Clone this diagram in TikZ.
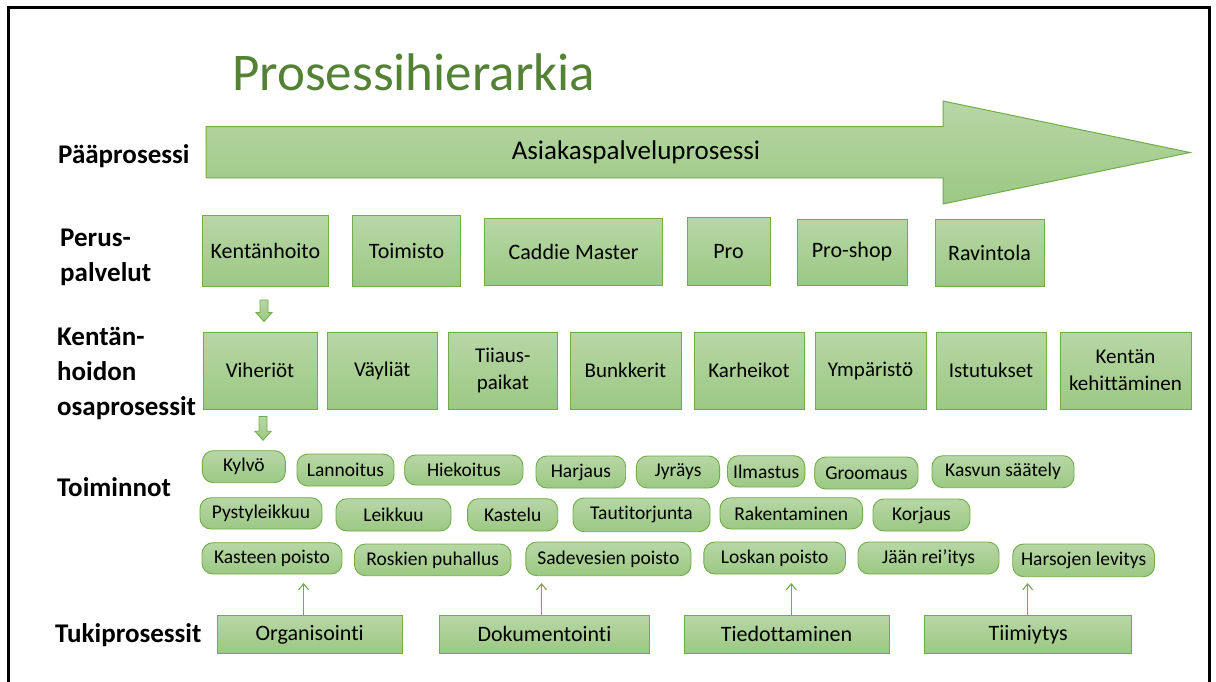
\documentclass[tikz,border=0pt]{standalone}
\usepackage{fontspec}
\setmainfont{Carlito}[Ligatures=NoCommon]
\usetikzlibrary{calc,arrows.meta}

\definecolor{gtop}{RGB}{183,215,166}
\definecolor{gbot}{RGB}{156,200,131}
\definecolor{gline}{RGB}{112,173,71}
\definecolor{titlegreen}{RGB}{84,130,53}

\tikzset{
  pbox/.style={draw=gline, line width=0.9pt, top color=gtop, bottom color=gbot,
               inner sep=0pt, align=center, text=black},
  perus/.style={pbox, font=\fontsize{22}{26}\selectfont},
  osa/.style={pbox, font=\fontsize{21}{27}\selectfont},
  toim/.style={pbox, rounded corners=11pt, font=\fontsize{19.5}{23}\selectfont},
  tuki/.style={pbox, font=\fontsize{22}{26}\selectfont},
  lbl/.style={anchor=west, inner sep=0pt, align=left,
              font=\bfseries\fontsize{27}{32}\selectfont},
  blockarrow/.style={draw=gline, line width=0.9pt, top color=gtop, bottom color=gbot},
  tarrow/.style={draw=gline, line width=1.1pt, -{Straight Barb[length=6pt,width=10pt]}},
}

% box given by its left/top and right/bottom corners (y grows downwards)
\newcommand\placebox[7]{%
  \node[#2, minimum width={#5-#3}, minimum height={#6-#4}] (#1)
    at ({(#3+#5)/2},{(#4+#6)/2}) {#7};}

% small block arrow pointing down from #1 to #2
\newcommand\blockdown[2]{%
  \path[blockarrow] ($(#1)+(-4,0)$) -- ($(#1)+(4,0)$) -- ($(#2)+(4,-9)$)
    -- ($(#2)+(8,-9)$) -- (#2) -- ($(#2)+(-8,-9)$) -- ($(#2)+(-4,-9)$) -- cycle;}

\begin{document}
\begin{tikzpicture}[x=1pt,y=-1pt]
\useasboundingbox (0,0) rectangle (1216,682);
\fill[white] (0,0) rectangle (1216,682);

% frame
\draw[line width=3pt] (8,720) -- (8,8) -- (1209,8) -- (1209,720);

% title
\node[anchor=base west, inner sep=0pt, text=titlegreen,
      font=\fontsize{53}{57}\selectfont] (title) at (232,91) {Prosessihierarkia};

% main process arrow
\path[blockarrow, line width=1pt] (206,126.7) -- (943,126.7) -- (943,101) -- (1190,152.5)
  -- (943,204) -- (943,178) -- (206,178) -- cycle;
\node[font=\fontsize{27}{30}\selectfont, inner sep=0pt] (main) at (636,152.5) {Asiakaspalveluprosessi};

% row labels
\node[lbl] (l1) at (58,156) {Pääprosessi};
\node[lbl] (l2) at (60,257) {Perus-\\[3pt]palvelut};
\node[lbl] (l3) at (57,373) {Kentän-\\[3pt]hoidon\\[3pt]osaprosessit};
\node[lbl] (l4) at (57,487) {Toiminnot};
\node[lbl] (l5) at (55,635) {Tukiprosessit};

% basic services
\placebox{kent}{perus}{202.4}{215}{328.5}{286.5}{Kentänhoito}
\placebox{toimisto}{perus}{352.6}{215.7}{460.5}{286.7}{Toimisto}
\placebox{caddie}{perus}{484.6}{218}{662.6}{285.7}{Caddie Master}
\placebox{pro}{perus}{687}{217.7}{770}{285}{Pro}
\placebox{proshop}{perus}{797}{219}{907}{285}{Pro-shop}
\placebox{ravintola}{perus}{935}{219.3}{1044}{286}{Ravintola}

% course maintenance sub-processes
\placebox{vih}{osa}{203}{332}{317}{409}{Viheriöt}
\placebox{vay}{osa}{327}{332}{437.5}{409}{Väyliät}
\placebox{tiiaus}{osa}{448}{332}{557.7}{409}{Tiiaus-\\paikat}
\placebox{bunk}{osa}{570}{332}{681}{409}{Bunkkerit}
\placebox{karh}{osa}{694}{332}{804}{409}{Karheikot}
\placebox{ymp}{osa}{815}{332}{926}{409}{Ympäristö}
\placebox{istut}{osa}{936}{332}{1046}{409}{Istutukset}
\placebox{kehit}{osa}{1060}{332}{1191}{409}{Kentän\\kehittäminen}

% activities, first row
\placebox{kylvo}{toim}{202.4}{450.7}{285.4}{482.7}{Kylvö}
\placebox{lannoitus}{toim}{297}{454}{394}{486}{Lannoitus}
\placebox{hiekoitus}{toim}{404.7}{455}{523}{485}{Hiekoitus}
\placebox{harjaus}{toim}{536}{456}{625.7}{488}{Harjaus}
\placebox{jyrays}{toim}{636.4}{456}{719.6}{488}{Jyräys}
\placebox{ilmastus}{toim}{727.5}{455.7}{804.8}{487}{Ilmastus}
\placebox{groomaus}{toim}{814.7}{457}{918}{489}{Groomaus}
\placebox{kasvun}{toim}{932}{455.7}{1074}{487.7}{Kasvun säätely}

% activities, second row
\placebox{pysty}{toim}{200}{497.7}{322}{529}{Pystyleikkuu}
\placebox{leikkuu}{toim}{336}{498.7}{451}{531}{Leikkuu}
\placebox{kastelu}{toim}{467.6}{498.7}{557.7}{531}{Kastelu}
\placebox{tauti}{toim}{573}{498}{710}{531.7}{Tautitorjunta}
\placebox{rakent}{toim}{720}{497.7}{862.6}{529}{Rakentaminen}
\placebox{korjaus}{toim}{873}{499}{970}{531}{Korjaus}

% activities, third row
\placebox{kasteen}{toim}{202}{542.7}{342}{574}{Kasteen poisto}
\placebox{roskien}{toim}{354.5}{544}{511}{575.7}{Roskien puhallus}
\placebox{sadevesi}{toim}{525.8}{542}{691}{575.7}{Sadevesien poisto}
\placebox{loskan}{toim}{703.8}{542}{845.5}{574}{Loskan poisto}
\placebox{jaan}{toim}{858}{542}{999}{574}{Jään rei’itys}
\placebox{harsojen}{toim}{1012.7}{544}{1154.5}{576.7}{Harsojen levitys}

% support processes
\placebox{org}{tuki}{217.4}{615.7}{402}{653}{Organisointi}
\placebox{doku}{tuki}{439.5}{615.7}{649.5}{653}{Dokumentointi}
\placebox{tied}{tuki}{684}{615.7}{889}{653}{Tiedottaminen}
\placebox{tiimi}{tuki}{924.8}{615.7}{1131.5}{653}{Tiimiytys}

% block arrows down the maintenance branch
\coordinate (d1a) at ($(kent.south)+(0,13)$);
\coordinate (d1b) at ($(vih.north)+(0,-10)$);
\coordinate (s1) at (d1a -| 264,0);
\coordinate (e1) at (d1b -| 264,0);
\blockdown{s1}{e1}
\coordinate (d2a) at ($(vih.south)+(0,7)$);
\coordinate (d2b) at ($(kylvo.north)+(0,-10)$);
\coordinate (s2) at (d2a -| 263,0);
\coordinate (e2) at (d2b -| 263,0);
\blockdown{s2}{e2}

% support arrows pointing up to the activities
\coordinate (t1) at (303.6,583);
\coordinate (t2) at (541.5,583);
\coordinate (t3) at (791.3,583);
\coordinate (t4) at (1027.7,583);
\draw[tarrow] (org.north -| t1) -- (t1);
\draw[tarrow] (doku.north -| t2) -- (t2);
\draw[tarrow] (tied.north -| t3) -- (t3);
\draw[tarrow] (tiimi.north -| t4) -- (t4);
\end{tikzpicture}
\end{document}
